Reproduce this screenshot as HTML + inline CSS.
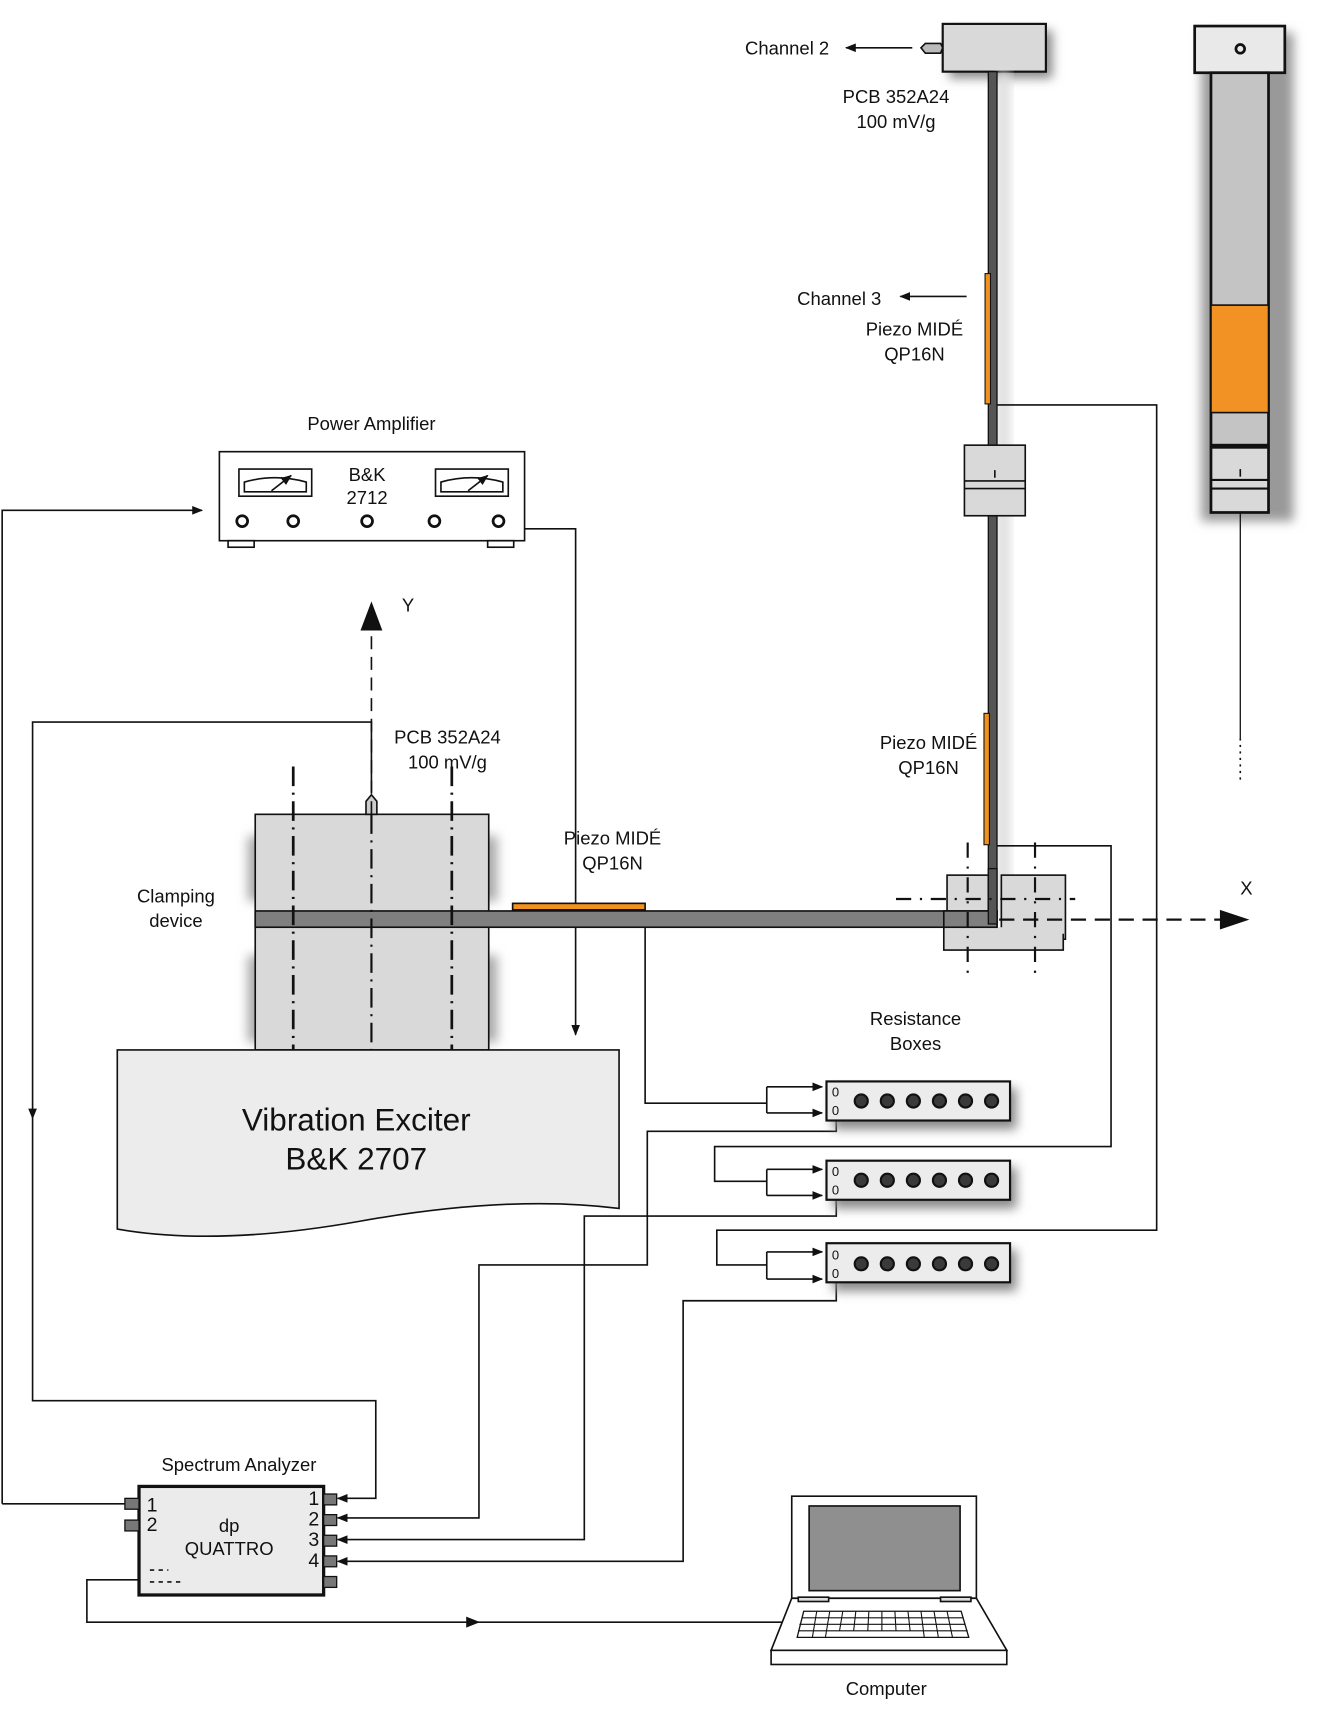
<!DOCTYPE html>
<html><head><meta charset="utf-8"><style>html,body{margin:0;padding:0;background:#fff}svg{display:block}text{font-family:"Liberation Sans",Arial,sans-serif;fill:#111}</style></head><body>
<svg width="1325" height="1709" viewBox="0 0 1220 1574" preserveAspectRatio="none" xmlns="http://www.w3.org/2000/svg">
<defs>
<marker id="a" markerWidth="10" markerHeight="8" refX="9" refY="4" orient="auto" markerUnits="userSpaceOnUse"><path d="M0,0 L10,4 L0,8 z" fill="#111"/></marker>
<marker id="b" markerWidth="16" markerHeight="12" refX="15" refY="6" orient="auto" markerUnits="userSpaceOnUse"><path d="M0,0 L16,6 L0,12 z" fill="#111"/></marker>
<filter id="s" x="-20%" y="-20%" width="150%" height="160%"><feGaussianBlur stdDeviation="5"/></filter>
</defs>
<g fill="none" stroke="#111" stroke-width="1.5">
<!-- top sensor -->
<rect x="874" y="28" width="95" height="44" fill="#888" filter="url(#s)" stroke="none"/>
<rect x="868" y="22" width="95" height="44" fill="#d9d9d9" stroke-width="2"/>
<path d="M852,40 L866,40 L868,44 L866,49 L852,49 L848,44 z" fill="#bbb"/>
<line x1="840" y1="44" x2="779" y2="44" marker-end="url(#a)"/>
<!-- vertical rod -->
<rect x="918" y="66" width="12" height="780" fill="#ddd" filter="url(#s)" stroke="none"/>
<rect x="910" y="66" width="8" height="785" fill="#555" stroke-width="1.2"/>
<rect x="907" y="252" width="5" height="120" fill="#f0921f" stroke-width="1"/>
<rect x="906" y="657" width="5" height="121" fill="#f0921f" stroke-width="1"/>
<line x1="890" y1="273" x2="829" y2="273" marker-end="url(#a)"/>
<rect x="888" y="410" width="56" height="65" fill="#d9d9d9"/>
<line x1="888" y1="443" x2="944" y2="443"/><line x1="888" y1="450" x2="944" y2="450"/>
<line x1="916" y1="433" x2="916" y2="440"/>
<!-- right side view -->
<rect x="1106" y="30" width="85" height="450" fill="#999" filter="url(#s)" stroke="none"/>
<rect x="1100" y="24" width="83" height="43" fill="#e9e9e9" stroke-width="2.5"/>
<circle cx="1142" cy="45" r="4" stroke-width="2.5"/>
<rect x="1115" y="67" width="53" height="343" fill="#c4c4c4" stroke-width="2.5"/>
<rect x="1115" y="281" width="53" height="99" fill="#f39224" stroke-width="1.5"/>
<rect x="1115" y="412" width="53" height="60" fill="#d9d9d9" stroke-width="2.5"/>
<line x1="1115" y1="442" x2="1168" y2="442" stroke-width="2"/><line x1="1115" y1="450" x2="1168" y2="450" stroke-width="2"/>
<line x1="1142" y1="432" x2="1142" y2="439"/>
<line x1="1142" y1="472" x2="1142" y2="680" stroke-width="1.2"/>
<line x1="1142" y1="680" x2="1142" y2="720" stroke-dasharray="2 4"/>
<!-- connections -->
<polyline points="918,373 1065,373 1065,1133 660,1133 660,1165 706,1165"/>
<polyline points="706,1153 706,1178"/>
<line x1="706" y1="1153" x2="757" y2="1153" marker-end="url(#a)"/><line x1="706" y1="1178" x2="757" y2="1178" marker-end="url(#a)"/>
<polyline points="918,779 1023,779 1023,1056 658,1056 658,1088 706,1088"/>
<polyline points="706,1077 706,1101"/>
<line x1="706" y1="1077" x2="757" y2="1077" marker-end="url(#a)"/><line x1="706" y1="1101" x2="757" y2="1101" marker-end="url(#a)"/>
<polyline points="594,838 594,1016 706,1016"/>
<polyline points="706,1001 706,1025"/>
<line x1="706" y1="1001" x2="757" y2="1001" marker-end="url(#a)"/><line x1="706" y1="1025" x2="757" y2="1025" marker-end="url(#a)"/>
<polyline points="770,1020 770,1042 596,1042 596,1165 441,1165 441,1398 311,1398" marker-end="url(#a)"/>
<polyline points="770,1097 770,1120 538,1120 538,1418 311,1418" marker-end="url(#a)"/>
<polyline points="770,1173 770,1198 629,1198 629,1438 311,1438" marker-end="url(#a)"/>
<!-- power amp -->
<polyline points="2,1385 2,470 186,470" marker-end="url(#a)"/>
<line x1="2" y1="1385" x2="115" y2="1385"/>
<polyline points="483,487 530,487 530,953" marker-end="url(#a)"/>
<rect x="202" y="416" width="281" height="82" fill="#fff"/>
<rect x="220" y="432" width="67" height="25"/><path d="M225,453 L225,444 Q253,436 282,444 L282,453 z"/><line x1="250" y1="452" x2="268" y2="438" marker-end="url(#a)"/>
<rect x="401" y="432" width="67" height="25"/><path d="M406,453 L406,444 Q434,436 463,444 L463,453 z"/><line x1="431" y1="452" x2="449" y2="438" marker-end="url(#a)"/>
<g stroke-width="2.5"><circle cx="223" cy="480" r="5"/><circle cx="270" cy="480" r="5"/><circle cx="338" cy="480" r="5"/><circle cx="400" cy="480" r="5"/><circle cx="459" cy="480" r="5"/></g>
<rect x="210" y="498" width="24" height="6"/><rect x="449" y="498" width="24" height="6"/>
<!-- accel cable -->
<polyline points="342,730 342,665 30,665 30,1030" marker-end="url(#a)"/>
<polyline points="30,1030 30,1290 346,1290 346,1380 311,1380" marker-end="url(#a)"/>
<!-- clamp -->
<rect x="228" y="770" width="230" height="60" fill="#aaa" filter="url(#s)" stroke="none"/>
<rect x="228" y="880" width="230" height="80" fill="#aaa" filter="url(#s)" stroke="none"/>
<rect x="235" y="750" width="215" height="217" fill="#d9d9d9"/>
<path d="M337,750 L337,738 L342,732 L347,738 L347,750 z" fill="#ccc"/>
<rect x="235" y="839" width="683" height="15" fill="#7f7f7f"/>
<rect x="472" y="832" width="122" height="6" fill="#f0921f"/>
<g stroke-width="2.5" stroke-dasharray="18 6 2 6"><line x1="270" y1="706" x2="270" y2="967"/><line x1="416" y1="706" x2="416" y2="967"/></g>
<line x1="342" y1="750" x2="342" y2="967" stroke-width="2" stroke-dasharray="18 6 2 6"/>
<line x1="342" y1="750" x2="342" y2="580" stroke-dasharray="12 7"/>
<path d="M342,556 L351,580 L333,580 z" fill="#111"/>
<!-- exciter -->
<path d="M108,967 L570,967 L570,1113 Q470,1100 330,1125 Q200,1148 108,1132 z" fill="#ececec"/>
<!-- right base -->
<rect x="872" y="806" width="38" height="33" fill="#d9d9d9"/>
<rect x="922" y="806" width="59" height="59" fill="#d9d9d9"/>
<rect x="869" y="854" width="110" height="21" fill="#d9d9d9" stroke="none"/>
<polyline points="869,854 869,875 979,875 979,860"/>
<rect x="869" y="839" width="49" height="15" fill="#7f7f7f"/>
<rect x="910" y="800" width="8" height="51" fill="#555" stroke-width="1.2"/>
<g stroke-width="2" stroke-dasharray="14 8 2 8"><line x1="891" y1="776" x2="891" y2="900"/><line x1="953" y1="776" x2="953" y2="900"/><line x1="825" y1="828" x2="990" y2="828"/></g>
<line x1="920" y1="847" x2="1125" y2="847" stroke-width="2" stroke-dasharray="14 8"/>
<path d="M1148,847 L1124,839 L1124,855 z" fill="#111"/>
<!-- resistance boxes -->
<g>
<rect x="767" y="1002" width="169" height="38" fill="#888" filter="url(#s)" stroke="none"/>
<rect x="761" y="996" width="169" height="36" fill="#ececec" stroke-width="2"/>
<rect x="767" y="1075" width="169" height="38" fill="#888" filter="url(#s)" stroke="none"/>
<rect x="761" y="1069" width="169" height="36" fill="#ececec" stroke-width="2"/>
<rect x="767" y="1151" width="169" height="38" fill="#888" filter="url(#s)" stroke="none"/>
<rect x="761" y="1145" width="169" height="36" fill="#ececec" stroke-width="2"/>
</g>
<g fill="#3a3a3a" stroke-width="2">
<circle cx="793" cy="1014" r="6"/><circle cx="817" cy="1014" r="6"/><circle cx="841" cy="1014" r="6"/><circle cx="865" cy="1014" r="6"/><circle cx="889" cy="1014" r="6"/><circle cx="913" cy="1014" r="6"/>
<circle cx="793" cy="1087" r="6"/><circle cx="817" cy="1087" r="6"/><circle cx="841" cy="1087" r="6"/><circle cx="865" cy="1087" r="6"/><circle cx="889" cy="1087" r="6"/><circle cx="913" cy="1087" r="6"/>
<circle cx="793" cy="1164" r="6"/><circle cx="817" cy="1164" r="6"/><circle cx="841" cy="1164" r="6"/><circle cx="865" cy="1164" r="6"/><circle cx="889" cy="1164" r="6"/><circle cx="913" cy="1164" r="6"/>
</g>
<!-- spectrum analyzer -->
<polyline points="128,1455 80,1455 80,1494 720,1494"/>
<path d="M440,1494 L430,1490 L430,1498 z" fill="#111"/>
<rect x="128" y="1369" width="170" height="100" fill="#ebebeb" stroke-width="3"/>
<g fill="#777" stroke-width="1.2"><rect x="115" y="1380" width="13" height="10"/><rect x="115" y="1400" width="13" height="10"/>
<rect x="298" y="1376" width="12" height="10"/><rect x="298" y="1395" width="12" height="10"/><rect x="298" y="1414" width="12" height="10"/><rect x="298" y="1433" width="12" height="10"/><rect x="298" y="1452" width="12" height="10"/></g>
<g stroke-dasharray="4 4"><line x1="138" y1="1446" x2="155" y2="1446"/><line x1="138" y1="1457" x2="166" y2="1457"/></g>
<!-- laptop -->
<rect x="729" y="1378" width="170" height="94" fill="#fff"/>
<rect x="745" y="1387" width="139" height="78" fill="#8f8f8f"/>
<path d="M729,1472 L899,1472 L927,1520 L710,1520 z" fill="#fff"/>
<rect x="710" y="1520" width="217" height="13" fill="#fff"/>
<rect x="735" y="1471" width="28" height="4" fill="#ddd"/><rect x="866" y="1471" width="28" height="4" fill="#ddd"/>
<path d="M740,1484 L885,1484 L892,1508 L734,1508 z" stroke-width="1.2"/>
<g stroke-width="1"><line x1="738" y1="1490" x2="887" y2="1490"/><line x1="736" y1="1496" x2="889" y2="1496"/><line x1="735" y1="1502" x2="891" y2="1502"/>
<line x1="752" y1="1484" x2="748" y2="1508"/><line x1="764" y1="1484" x2="760" y2="1508"/><line x1="776" y1="1484" x2="773" y2="1502"/><line x1="788" y1="1484" x2="786" y2="1502"/><line x1="800" y1="1484" x2="799" y2="1502"/><line x1="812" y1="1484" x2="812" y2="1502"/><line x1="824" y1="1484" x2="825" y2="1502"/><line x1="836" y1="1484" x2="838" y2="1502"/><line x1="848" y1="1484" x2="851" y2="1508"/><line x1="860" y1="1484" x2="864" y2="1508"/><line x1="872" y1="1484" x2="877" y2="1508"/></g>
</g>
<!-- text -->
<g font-size="17">
<text x="686" y="50">Channel 2</text>
<text x="825" y="95" text-anchor="middle">PCB 352A24</text>
<text x="825" y="118" text-anchor="middle">100 mV/g</text>
<text x="734" y="281">Channel 3</text>
<text x="842" y="309" text-anchor="middle">Piezo MIDÉ</text>
<text x="842" y="332" text-anchor="middle">QP16N</text>
<text x="855" y="690" text-anchor="middle">Piezo MIDÉ</text>
<text x="855" y="713" text-anchor="middle">QP16N</text>
<text x="342" y="396" text-anchor="middle">Power Amplifier</text>
<text x="338" y="443" text-anchor="middle">B&amp;K</text>
<text x="338" y="464" text-anchor="middle">2712</text>
<text x="370" y="563">Y</text>
<text x="412" y="685" text-anchor="middle">PCB 352A24</text>
<text x="412" y="708" text-anchor="middle">100 mV/g</text>
<text x="564" y="778" text-anchor="middle">Piezo MIDÉ</text>
<text x="564" y="801" text-anchor="middle">QP16N</text>
<text x="162" y="831" text-anchor="middle">Clamping</text>
<text x="162" y="854" text-anchor="middle">device</text>
<text x="1142" y="824">X</text>
<text x="843" y="944" text-anchor="middle">Resistance</text>
<text x="843" y="967" text-anchor="middle">Boxes</text>
<text x="220" y="1355" text-anchor="middle">Spectrum Analyzer</text>
<text x="211" y="1411" text-anchor="middle">dp</text>
<text x="211" y="1432" text-anchor="middle">QUATTRO</text>
<text x="816" y="1561" text-anchor="middle">Computer</text>
</g>
<g font-size="18"><text x="135" y="1392">1</text><text x="135" y="1410">2</text>
<text x="284" y="1386">1</text><text x="284" y="1405">2</text><text x="284" y="1424">3</text><text x="284" y="1443">4</text></g>
<g font-size="12"><text x="766" y="1010">0</text><text x="766" y="1027">0</text><text x="766" y="1083">0</text><text x="766" y="1100">0</text><text x="766" y="1160">0</text><text x="766" y="1177">0</text></g>
<text x="328" y="1041" font-size="29" text-anchor="middle">Vibration Exciter</text>
<text x="328" y="1077" font-size="29" text-anchor="middle">B&amp;K 2707</text>
</svg>
</body></html>
